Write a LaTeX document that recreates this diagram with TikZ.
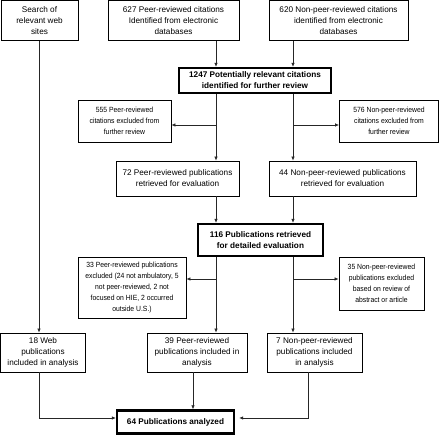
\documentclass[tikz,border=0pt]{standalone}
\usepackage{fontspec}
\setmainfont{Liberation Sans}
\newfontfamily\narrowsans[FakeStretch=0.91]{Liberation Sans}
\usetikzlibrary{arrows.meta}
\begin{document}
\begin{tikzpicture}[x=1pt,y=-1pt,
  box/.style={draw=black,line width=0.8pt,inner sep=0pt,align=center,
    font=\fontsize{8.2}{11}\selectfont},
  smallbox/.style={box,font=\narrowsans\fontsize{7.5}{11}\selectfont},
  thickbox/.style={box,line width=2.4pt,font=\fontsize{8.2}{11}\selectfont\bfseries},
  conn/.style={line width=0.7pt,draw=black!85},
  arr/.style={conn,-{Latex[length=4pt,width=3.6pt]}}]
\useasboundingbox (0,0) rectangle (440,435);
% nodes
\node[box,minimum width=77pt,minimum height=40pt] (search) at (39.5,20.8) {Search of\\relevant web\\sites};
\node[box,minimum width=131pt,minimum height=40pt] (p627) at (173.5,20.8) {627 Peer-reviewed citations\\Identified from electronic\\databases};
\node[box,minimum width=139pt,minimum height=40pt] (n620) at (338.5,20.8) {620 Non-peer-reviewed citations\\identified from electronic\\databases};
\node[thickbox,minimum width=152pt,minimum height=25pt] (c1247) at (255,80.5) {1247 Potentially relevant citations\\identified for further review};
\node[smallbox,minimum width=93pt,minimum height=42pt] (e555) at (124.5,121) {555 Peer-reviewed\\citations excluded from\\further review};
\node[smallbox,minimum width=99pt,minimum height=42pt] (e576) at (389,121) {576 Non-peer-reviewed\\citations excluded from\\further review};
\node[box,minimum width=123pt,minimum height=35pt] (r72) at (177.5,178.5) {72 Peer-reviewed publications\\retrieved for evaluation};
\node[box,minimum width=147pt,minimum height=35pt] (r44) at (342.5,178.5) {44 Non-peer-reviewed publications\\retrieved for evaluation};
\node[thickbox,minimum width=125pt,minimum height=32pt] (p116) at (260.5,240) {116 Publications retrieved\\for detailed evaluation};
\node[smallbox,minimum width=108pt,minimum height=61pt] (e33) at (132,287.5) {33 Peer-reviewed publications\\excluded (24 not ambulatory, 5\\not peer-reviewed, 2 not\\focused on HIE, 2 occurred\\outside U.S.)};
\node[smallbox,minimum width=85pt,minimum height=53pt] (e35) at (381.5,283.5) {35 Non-peer-reviewed\\publications excluded\\based on review of\\abstract or article};
\node[box,minimum width=85pt,minimum height=39pt] (w18) at (43,352.5) {18 Web\\publications\\included in analysis};
\node[box,minimum width=100pt,minimum height=39pt] (p39) at (197,352.5) {39 Peer-reviewed\\publications included in\\analysis};
\node[box,minimum width=95pt,minimum height=39pt] (n7) at (314.5,352.5) {7 Non-peer-reviewed\\publications included\\in analysis};
\node[thickbox,minimum width=117pt,minimum height=23pt] (a64) at (175.5,422) {64 Publications analyzed};
% helper coordinates
\coordinate (xL) at (216,0);
\coordinate (xR) at (293,0);
\coordinate (xW) at (39,0);
\coordinate (xM) at (193,0);
\coordinate (xN) at (308,0);
\coordinate (b1) at (0,125);
\coordinate (b2) at (0,279);
\coordinate (b3) at (0,418);
% connectors
\draw[arr] (p627.south -| xL) -- (c1247.north -| xL);
\draw[arr] (n620.south -| xR) -- (c1247.north -| xR);
\draw[arr] (c1247.south -| xL) -- (r72.north -| xL);
\draw[arr] (c1247.south -| xR) -- (r44.north -| xR);
\draw[arr] (xL |- b1) -- (e555.east |- b1);
\draw[arr] (xR |- b1) -- (e576.west |- b1);
\draw[arr] (r72.south -| xL) -- (p116.north -| xL);
\draw[arr] (r44.south -| xR) -- (p116.north -| xR);
\draw[arr] (p116.south -| xL) -- (p39.north -| xL);
\draw[arr] (p116.south -| xR) -- (n7.north -| xR);
\draw[arr] (xL |- b2) -- (e33.east |- b2);
\draw[arr] (xR |- b2) -- (e35.west |- b2);
\draw[arr] (search.south -| xW) -- (w18.north -| xW);
\draw[arr] (w18.south -| xW) |- (a64.west |- b3);
\draw[arr] (p39.south -| xM) -- (a64.north -| xM);
\draw[arr] (n7.south -| xN) |- ([xshift=4pt]a64.east |- b3);
\end{tikzpicture}
\end{document}
